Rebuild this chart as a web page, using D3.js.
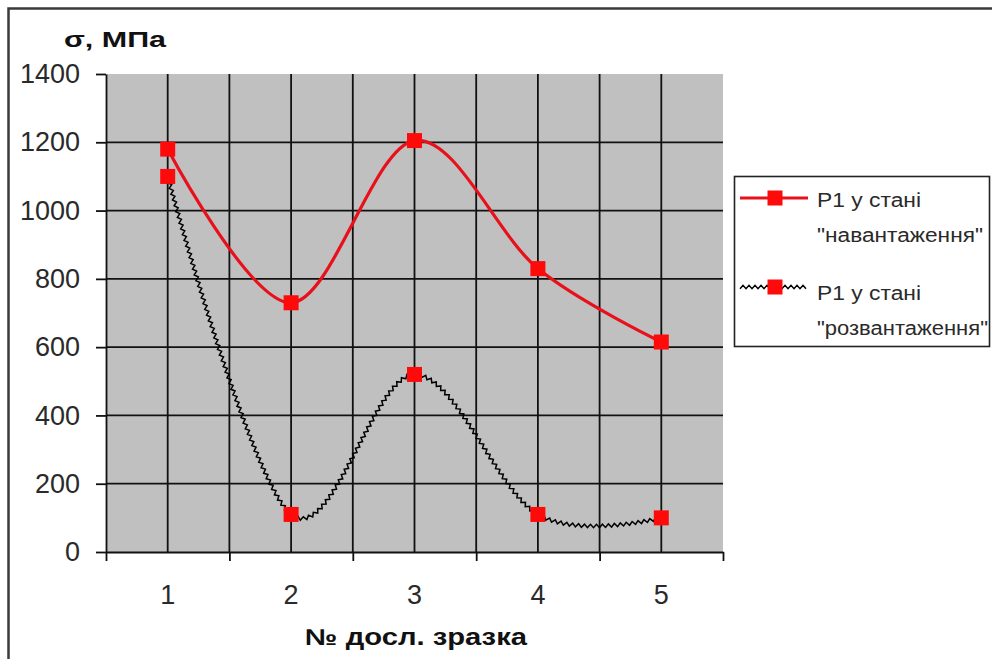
<!DOCTYPE html>
<html>
<head>
<meta charset="utf-8">
<script src="https://cdn.jsdelivr.net/npm/d3@7"></script>
<style>
  html, body { margin: 0; padding: 0; background: #fff; }
  svg { display: block; font-family: "Liberation Sans", Arial, sans-serif; }
</style>
</head>
<body>
<script>
// chart values
const categories = ["1", "2", "3", "4", "5"]
const loadValues = [1180, 730, 1205, 830, 615]
const unloadValues = [1100, 110, 520, 110, 100]
const yTicks = [0, 200, 400, 600, 800, 1000, 1200, 1400]
const legendLabels = [
  ["Р1 у стані", "\"навантаження\""],
  ["Р1 у стані", "\"розвантаження\""]
]
const yTitle = "σ, МПа"
const xTitle = "№ досл. зразка"

const width = 992
const height = 659
const plot = { left: 106, right: 723, top: 74, bottom: 552 }

const svg = d3.select("body")
  .append("svg")
  .attr("width", width)
  .attr("height", height)

// outer frame (runs off the right and bottom edge)
svg.append("rect")
  .attr("x", 8.5).attr("y", 8.5)
  .attr("width", 1100).attr("height", 800)
  .attr("fill", "#fff")
  .attr("stroke", "#3a3a3a")
  .attr("stroke-width", 2.5)

const x = d3.scaleBand()
  .domain(categories)
  .range([plot.left, plot.right])

const xEdges = d3.scaleLinear()
  .domain([0, categories.length])
  .range([plot.left, plot.right])

const y = d3.scaleLinear()
  .domain([0, 1400])
  .range([plot.bottom, plot.top])

const cx = (c) => x(c) + x.bandwidth() / 2

// plot background
svg.append("rect")
  .attr("x", plot.left).attr("y", plot.top)
  .attr("width", plot.right - plot.left)
  .attr("height", plot.bottom - plot.top)
  .attr("fill", "#c0c0c0")

// gridlines
const grid = svg.append("g").attr("stroke", "#111").attr("stroke-width", 1.8)
grid.selectAll(".hg")
  .data(yTicks.filter((d) => d > 0 && d < 1400))
  .join("line")
  .attr("x1", plot.left).attr("x2", plot.right)
  .attr("y1", (d) => y(d)).attr("y2", (d) => y(d))
grid.selectAll(".vc")
  .data(categories)
  .join("line")
  .attr("x1", (d) => cx(d)).attr("x2", (d) => cx(d))
  .attr("y1", plot.top).attr("y2", plot.bottom)
grid.selectAll(".ve")
  .data([1, 2, 3, 4])
  .join("line")
  .attr("x1", (d) => xEdges(d)).attr("x2", (d) => xEdges(d))
  .attr("y1", plot.top).attr("y2", plot.bottom)

// y axis
const yAxis = svg.append("g")
  .attr("transform", `translate(${plot.left},0)`)
  .call(d3.axisLeft(y).tickValues(yTicks).tickFormat(d3.format("d"))
    .tickSize(10).tickSizeOuter(0).tickPadding(16))
yAxis.selectAll("path, line").attr("stroke", "#111").attr("stroke-width", 1.8)
yAxis.selectAll("text")
  .attr("font-size", 27)
  .attr("fill", "#2a2a2a")
  .attr("font-family", "Liberation Sans, Arial, sans-serif")

// x axis: ticks on the category edges, labels on the centres
const xAxis = svg.append("g")
  .attr("transform", `translate(0,${plot.bottom})`)
  .call(d3.axisBottom(xEdges).tickValues(d3.range(categories.length + 1)).tickSize(9).tickSizeOuter(0).tickFormat(""))
xAxis.selectAll("path, line").attr("stroke", "#111").attr("stroke-width", 1.8)

const xLabels = svg.append("g")
  .attr("transform", `translate(0,${plot.bottom})`)
  .call(d3.axisBottom(x).tickSize(0).tickPadding(33))
xLabels.select(".domain").remove()
xLabels.selectAll("text")
  .attr("font-size", 27)
  .attr("fill", "#2a2a2a")
  .attr("font-family", "Liberation Sans, Arial, sans-serif")

// titles
svg.append("text")
  .attr("x", 64).attr("y", 47)
  .attr("font-size", 22)
  .attr("font-weight", "bold")
  .attr("fill", "#111")
  .attr("textLength", 102)
  .attr("lengthAdjust", "spacingAndGlyphs")
  .text(yTitle)

svg.append("text")
  .attr("x", 305).attr("y", 645)
  .attr("font-size", 23)
  .attr("font-weight", "bold")
  .attr("fill", "#111")
  .attr("textLength", 222)
  .attr("lengthAdjust", "spacingAndGlyphs")
  .text(xTitle)

// turns a path into a fine zigzag that follows it
function zigzag(pathNode, step, amp) {
  const len = pathNode.getTotalLength()
  const pts = []
  let k = 0
  for (let s = 0; s <= len; s += step, k++) {
    const p = pathNode.getPointAtLength(s)
    const q = pathNode.getPointAtLength(Math.min(len, s + 0.5))
    const p0 = pathNode.getPointAtLength(Math.max(0, s - 0.5))
    let dx = q.x - p0.x, dy = q.y - p0.y
    const n = Math.hypot(dx, dy) || 1
    dx /= n; dy /= n
    const o = (k % 2 === 0 ? 1 : -1) * amp
    pts.push([p.x - dy * o, p.y + dx * o])
  }
  return d3.line()(pts)
}

const curve = d3.curveCardinal.tension(0)
const lineGen = d3.line()
  .x((d, i) => cx(categories[i]))
  .y((d) => y(d))
  .curve(curve)

// unloaded series: black wavy line
const guide = svg.append("path")
  .attr("d", lineGen(unloadValues))
  .attr("fill", "none")
  .attr("stroke", "none")
svg.append("path")
  .attr("d", zigzag(guide.node(), 3, 1.7))
  .attr("fill", "none")
  .attr("stroke", "#000")
  .attr("stroke-width", 1.5)

// loaded series: red line
svg.append("path")
  .attr("d", lineGen(loadValues))
  .attr("fill", "none")
  .attr("stroke", "#e8101a")
  .attr("stroke-width", 3.2)

const ms = 15
svg.append("g")
  .selectAll("rect")
  .data(loadValues.map((v, i) => [categories[i], v]).concat(unloadValues.map((v, i) => [categories[i], v])))
  .join("rect")
  .attr("x", (d) => cx(d[0]) - ms / 2)
  .attr("y", (d) => y(d[1]) - ms / 2)
  .attr("width", ms).attr("height", ms)
  .attr("fill", "#ff0a0a")

// legend
const legend = svg.append("g")
legend.append("rect")
  .attr("x", 734.5).attr("y", 176.5)
  .attr("width", 255).attr("height", 170)
  .attr("fill", "#fff")
  .attr("stroke", "#222")
  .attr("stroke-width", 1.6)

const legendRows = [198, 287]
const legendBase = [[207, 242], [300, 335]]
legendRows.forEach((ly, i) => {
  if (i === 0) {
    legend.append("line")
      .attr("x1", 740).attr("x2", 808)
      .attr("y1", ly).attr("y2", ly)
      .attr("stroke", "#e8101a").attr("stroke-width", 3.2)
  } else {
    const g = legend.append("path")
      .attr("d", `M740,${ly}L808,${ly}`)
      .attr("stroke", "none")
    legend.append("path")
      .attr("d", zigzag(g.node(), 3, 1.7))
      .attr("fill", "none")
      .attr("stroke", "#000").attr("stroke-width", 1.5)
  }
  legend.append("rect")
    .attr("x", 775 - ms / 2).attr("y", ly - ms / 2)
    .attr("width", ms).attr("height", ms)
    .attr("fill", "#ff0a0a")
  legend.append("text")
    .attr("x", 817).attr("y", legendBase[i][0])
    .attr("font-size", 20)
    .attr("fill", "#2a2a2a")
    .attr("textLength", 104)
    .attr("lengthAdjust", "spacingAndGlyphs")
    .text(legendLabels[i][0])
  legend.append("text")
    .attr("x", 817).attr("y", legendBase[i][1])
    .attr("font-size", 20)
    .attr("fill", "#2a2a2a")
    .attr("textLength", i === 0 ? 166 : 171)
    .attr("lengthAdjust", "spacingAndGlyphs")
    .text(legendLabels[i][1])
})
</script>
</body>
</html>
